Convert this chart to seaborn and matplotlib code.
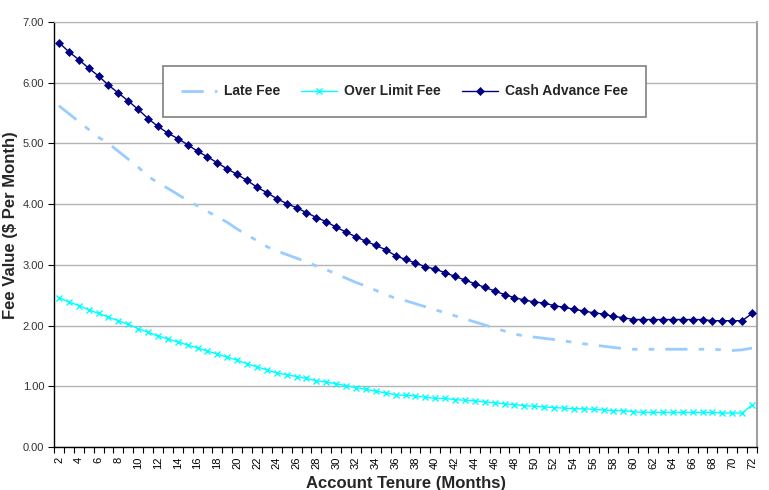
import matplotlib
matplotlib.use("Agg")
import matplotlib.pyplot as plt
import seaborn as sns
import pandas as pd
import numpy as np
from matplotlib.ticker import FixedLocator, FormatStrFormatter

months = list(range(2, 73))

late_fee = [5.62, 5.49, 5.36, 5.23, 5.10, 5.00, 4.87, 4.74, 4.61, 4.46,
            4.35, 4.26, 4.16, 4.06, 3.97, 3.88, 3.79, 3.70, 3.59, 3.49,
            3.40, 3.30, 3.23, 3.17, 3.11, 3.05, 2.98, 2.92, 2.85, 2.78,
            2.71, 2.65, 2.58, 2.51, 2.45, 2.41, 2.36, 2.31, 2.26, 2.21,
            2.16, 2.11, 2.06, 2.01, 1.96, 1.91, 1.86, 1.83, 1.81, 1.79,
            1.77, 1.75, 1.72, 1.70, 1.68, 1.66, 1.64, 1.62, 1.61, 1.61,
            1.61, 1.61, 1.61, 1.61, 1.61, 1.61, 1.61, 1.60, 1.59, 1.60,
            1.63]

over_limit_fee = [2.46, 2.39, 2.33, 2.26, 2.20, 2.14, 2.08, 2.02, 1.95, 1.89,
                  1.83, 1.78, 1.73, 1.68, 1.63, 1.58, 1.53, 1.48, 1.43, 1.37,
                  1.32, 1.27, 1.22, 1.19, 1.16, 1.13, 1.09, 1.07, 1.04, 1.01,
                  0.98, 0.95, 0.92, 0.89, 0.86, 0.85, 0.84, 0.82, 0.80, 0.80,
                  0.78, 0.77, 0.76, 0.74, 0.73, 0.71, 0.70, 0.68, 0.67, 0.66,
                  0.65, 0.64, 0.63, 0.63, 0.62, 0.61, 0.60, 0.60, 0.58, 0.57,
                  0.57, 0.57, 0.57, 0.57, 0.57, 0.57, 0.57, 0.56, 0.56, 0.56,
                  0.69]

cash_advance_fee = [6.66, 6.51, 6.38, 6.24, 6.11, 5.96, 5.83, 5.70, 5.56, 5.41,
                    5.28, 5.17, 5.08, 4.98, 4.87, 4.78, 4.68, 4.58, 4.49, 4.39,
                    4.28, 4.19, 4.09, 4.01, 3.94, 3.86, 3.78, 3.71, 3.62, 3.54,
                    3.46, 3.39, 3.32, 3.25, 3.15, 3.09, 3.03, 2.97, 2.93, 2.87,
                    2.81, 2.75, 2.69, 2.63, 2.57, 2.51, 2.46, 2.42, 2.39, 2.37,
                    2.33, 2.30, 2.27, 2.24, 2.21, 2.19, 2.15, 2.13, 2.10, 2.10,
                    2.10, 2.10, 2.10, 2.10, 2.10, 2.10, 2.08, 2.08, 2.08, 2.08,
                    2.20]

x_tick_labels = [str(m) for m in range(2, 73, 2)]
y_ticks = [0, 1, 2, 3, 4, 5, 6, 7]

df = pd.DataFrame({"Month": months, "Late Fee": late_fee,
                   "Over Limit Fee": over_limit_fee,
                   "Cash Advance Fee": cash_advance_fee})

sns.set_style("white")
plt.rcParams['font.family'] = ['Liberation Sans', 'DejaVu Sans']

fig = plt.figure(figsize=(7.69, 4.90), dpi=100)
ax = fig.add_axes([54/769, 43/490, 703/769, 425/490])

sns.lineplot(data=df, x="Month", y="Late Fee", ax=ax, color="#99CCFF",
             linewidth=2, label="Late Fee", zorder=3)
ax.lines[-1].set_dashes([8, 4, 2, 4, 2, 4])
sns.lineplot(data=df, x="Month", y="Over Limit Fee", ax=ax, color="#00FFFF",
             linewidth=1, marker="x", markersize=5, markeredgewidth=1,
             markeredgecolor="#00FFFF", label="Over Limit Fee", zorder=4)
sns.lineplot(data=df, x="Month", y="Cash Advance Fee", ax=ax, color="#000080",
             linewidth=1, marker="D", markersize=4.5, markeredgewidth=0.5,
             markeredgecolor="#000080", markerfacecolor="#000080",
             label="Cash Advance Fee", zorder=5)

ax.set_xlim(1.5, 72.5)
ax.set_ylim(0, 7)
ax.set_yticks(y_ticks)
ax.yaxis.set_major_formatter(FormatStrFormatter('%.2f'))
ax.set_xticks(list(range(2, 73, 2)))
ax.set_xticklabels(x_tick_labels, rotation=90)
ax.xaxis.set_minor_locator(FixedLocator(np.arange(1.5, 73, 1)))
ax.tick_params(axis='x', which='major', length=0, labelsize=8, pad=7, colors='#000000')
ax.tick_params(axis='x', which='minor', length=4, width=0.8, color='#000000', direction='out', bottom=True)
ax.tick_params(axis='y', which='major', length=4, width=0.8, color='#000000', direction='out',
               left=True, labelsize=8, labelcolor='#333333', pad=3)

ax.grid(axis='y', color='#b4b4b4', linewidth=1)
ax.set_axisbelow(True)
for side in ['left', 'bottom']:
    ax.spines[side].set_color('#000000')
    ax.spines[side].set_linewidth(1)
ax.spines['top'].set_color('#b4b4b4')
ax.spines['right'].set_color('#a0a0a0')
ax.spines['right'].set_linewidth(1.5)

ax.set_xlabel("Account Tenure (Months)", fontsize=12, fontweight='bold', labelpad=5)
ax.set_ylabel("Fee Value ($ Per Month)", fontsize=12, fontweight='bold')
ax.yaxis.set_label_coords(-0.0512, 0.522)

leg = ax.legend(loc='center', bbox_to_anchor=(0.4986, 0.8365), ncol=3, frameon=True,
                fancybox=False, edgecolor='#808080', framealpha=1, borderpad=1.3,
                handlelength=2.6, handletextpad=0.5, columnspacing=1.5,
                numpoints=1, prop={'weight': 'bold', 'size': 10})
leg.get_frame().set_linewidth(1.2)

fig.savefig("out.png", dpi=100)
